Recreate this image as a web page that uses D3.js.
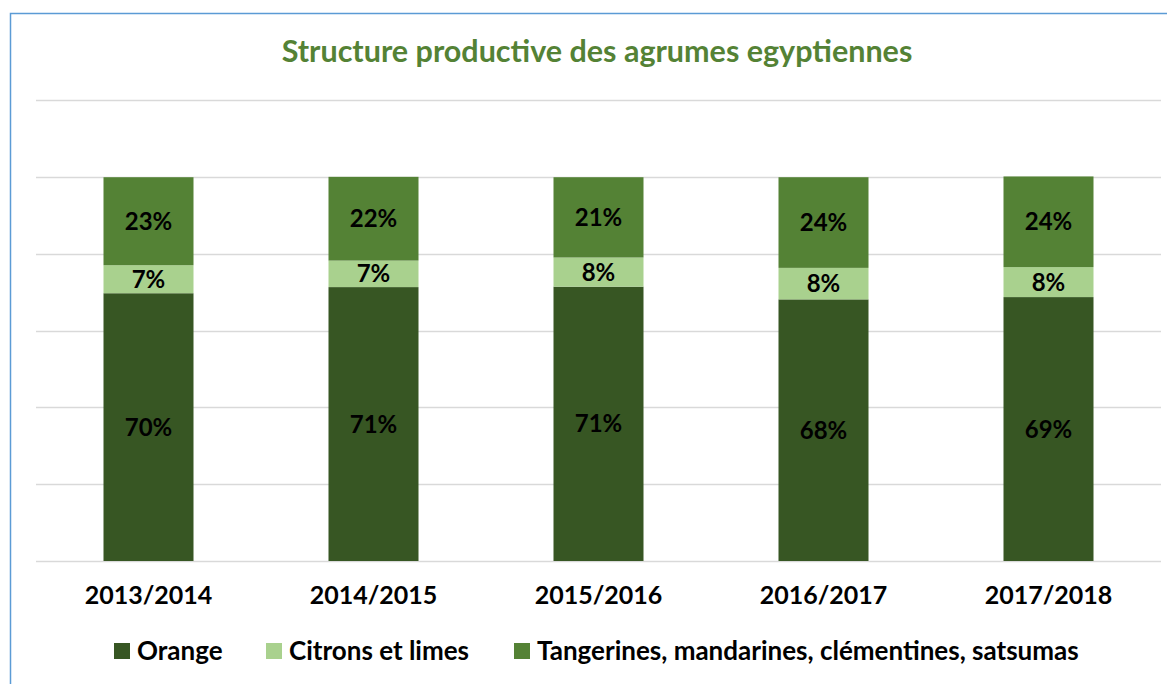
<!DOCTYPE html>
<html>
<head>
<meta charset="utf-8">
<script src="https://cdn.jsdelivr.net/npm/d3@7"></script>
<style>
  body { margin: 0; background: #fff; }
  text { font-family: Lato, "Open Sans", sans-serif; font-weight: bold; }
</style>
</head>
<body>
<div id="chart"></div>
<script>
var campaigns = ["2013/2014", "2014/2015", "2015/2016", "2016/2017", "2017/2018"];
var seriesNames = ["Orange", "Citrons et limes", "Tangerines, mandarines, clémentines, satsumas"];
var orange = [69.7, 71.3, 71.4, 68.1, 68.7];
var citrons = [7.3, 6.9, 7.6, 8.2, 7.8];
var tangerines = [22.9, 21.8, 20.9, 23.6, 23.6];
var yTicks = [0, 20, 40, 60, 80, 100, 120];
var colors = ["#375623", "#a9d18e", "#548235"];

var full_width = 1167, full_height = 684;
var margin = {top: 100, right: 6, bottom: 123, left: 36};
var width = full_width - margin.left - margin.right;
var height = full_height - margin.top - margin.bottom;

var rows = campaigns.map(function(c, i) {
  return {campaign: c, s0: orange[i], s1: citrons[i], s2: tangerines[i]};
});
var stack = d3.stack().keys(["s0", "s1", "s2"]);
var layers = stack(rows);

var svg = d3.select("#chart").append("svg")
  .attr("width", full_width)
  .attr("height", full_height);

// chart frame (only top and left edges are visible in the picture)
svg.append("path")
  .attr("d", "M10.5," + full_height + "V13.5H" + full_width)
  .attr("fill", "none")
  .attr("stroke", "#5b9bd5")
  .attr("stroke-width", 1.5);

svg.append("text")
  .attr("x", 597)
  .attr("y", 62)
  .attr("text-anchor", "middle")
  .attr("fill", "#548235")
  .style("font-size", "30.5px")
  .text("Structure productive des agrumes egyptiennes");

var g = svg.append("g")
  .attr("transform", "translate(" + margin.left + "," + margin.top + ")");

var x = d3.scaleBand().domain(campaigns).range([0, width]).paddingInner(0.6).paddingOuter(0.3);
var y = d3.scaleLinear().domain([0, 120]).range([height, 0]);

// gridlines
g.selectAll(".grid")
  .data(yTicks)
  .enter().append("line")
  .attr("x1", 0).attr("x2", width)
  .attr("y1", function(d) { return Math.round(y(d)) + 0.5; })
  .attr("y2", function(d) { return Math.round(y(d)) + 0.5; })
  .attr("stroke", "#d9d9d9")
  .attr("stroke-width", 1.5);

var layer = g.selectAll(".layer")
  .data(layers)
  .enter().append("g")
  .attr("fill", function(d, i) { return colors[i]; });

layer.selectAll("rect")
  .data(function(d) { return d; })
  .enter().append("rect")
  .attr("x", function(d) { return x(d.data.campaign); })
  .attr("width", x.bandwidth())
  .attr("y", function(d) { return y(d[1]); })
  .attr("height", function(d) { return y(d[0]) - y(d[1]); });

// value labels
layer.selectAll("text")
  .data(function(d) { return d; })
  .enter().append("text")
  .attr("x", function(d) { return x(d.data.campaign) + x.bandwidth() / 2; })
  .attr("y", function(d) { return (y(d[0]) + y(d[1])) / 2; })
  .attr("dy", "0.36em")
  .attr("text-anchor", "middle")
  .attr("fill", "#000")
  .style("font-size", "24px")
  .text(function(d) { return Math.round(d[1] - d[0]) + "%"; });

// x axis
var xAxis = g.append("g")
  .attr("transform", "translate(0," + height + ")")
  .call(d3.axisBottom(x).tickSize(0).tickPadding(25));
xAxis.select(".domain").remove();
xAxis.selectAll("text")
  .attr("fill", "#000")
  .style("font-size", "25px")
  .style("font-family", "Lato, sans-serif")
  .style("font-weight", "bold");

// legend
var legendX = [114, 266, 514];
var legend = svg.selectAll(".legend")
  .data(seriesNames)
  .enter().append("g")
  .attr("transform", function(d, i) { return "translate(" + legendX[i] + ",643)"; });
legend.append("rect")
  .attr("width", 16).attr("height", 16)
  .attr("fill", function(d, i) { return colors[i]; });
legend.append("text")
  .attr("x", 23)
  .attr("y", 8)
  .attr("dy", "0.36em")
  .attr("fill", "#000")
  .style("font-size", "26px")
  .text(function(d) { return d; });
</script>
</body>
</html>
